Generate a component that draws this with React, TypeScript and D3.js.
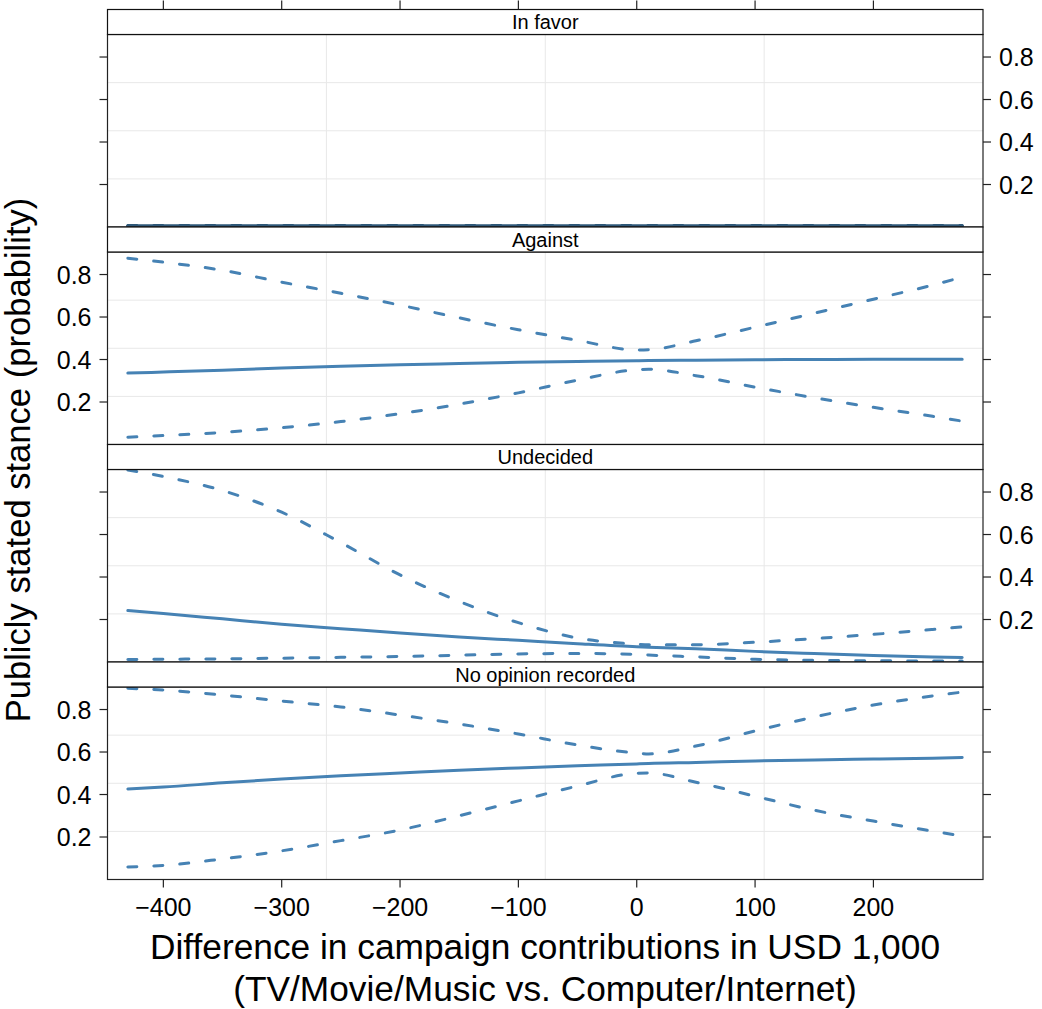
import React from "react";
import * as d3 from "d3";

const panelNames = ["In favor", "Against", "Undecided", "No opinion recorded"];
const xs = [-430, -400, -350, -300, -250, -200, -150, -100, -50, 0, 10, 50, 100, 150, 200, 250, 275];

const favorFit = [0.006, 0.006, 0.006, 0.006, 0.006, 0.006, 0.006, 0.006, 0.006, 0.006, 0.006, 0.006, 0.006, 0.006, 0.006, 0.006, 0.006];
const favorLow = [0.005, 0.005, 0.005, 0.005, 0.005, 0.005, 0.005, 0.005, 0.005, 0.005, 0.005, 0.005, 0.005, 0.005, 0.005, 0.005, 0.005];
const favorUp = [0.007, 0.007, 0.007, 0.007, 0.007, 0.007, 0.007, 0.007, 0.007, 0.007, 0.007, 0.007, 0.007, 0.007, 0.007, 0.007, 0.007];

const againstFit = [0.336, 0.341, 0.35, 0.36, 0.368, 0.375, 0.381, 0.387, 0.391, 0.394, 0.395, 0.397, 0.399, 0.4, 0.401, 0.401, 0.401];
const againstUp = [0.877, 0.858, 0.82, 0.764, 0.712, 0.656, 0.596, 0.54, 0.49, 0.445, 0.446, 0.488, 0.552, 0.618, 0.684, 0.75, 0.788];
const againstLow = [0.034, 0.042, 0.057, 0.079, 0.108, 0.145, 0.19, 0.243, 0.303, 0.352, 0.354, 0.324, 0.27, 0.22, 0.175, 0.133, 0.11];

const undecidedFit = [0.242, 0.228, 0.203, 0.178, 0.157, 0.136, 0.118, 0.102, 0.086, 0.072, 0.07, 0.062, 0.05, 0.04, 0.031, 0.024, 0.021];
const undecidedUp = [0.904, 0.873, 0.807, 0.705, 0.562, 0.41, 0.285, 0.185, 0.113, 0.084, 0.081, 0.081, 0.093, 0.11, 0.13, 0.153, 0.165];
const undecidedLow = [0.012, 0.013, 0.015, 0.018, 0.022, 0.026, 0.032, 0.038, 0.04, 0.036, 0.033, 0.024, 0.013, 0.008, 0.006, 0.005, 0.005];

const noOpFit = [0.426, 0.435, 0.455, 0.473, 0.488, 0.501, 0.514, 0.525, 0.535, 0.544, 0.546, 0.551, 0.558, 0.563, 0.567, 0.571, 0.574];
const noOpUp = [0.9, 0.892, 0.868, 0.84, 0.812, 0.774, 0.732, 0.685, 0.633, 0.595, 0.591, 0.628, 0.699, 0.765, 0.821, 0.864, 0.882];
const noOpLow = [0.059, 0.066, 0.097, 0.135, 0.183, 0.233, 0.3, 0.37, 0.44, 0.5, 0.501, 0.458, 0.392, 0.326, 0.275, 0.228, 0.205];

const fits = [favorFit, againstFit, undecidedFit, noOpFit];
const uppers = [favorUp, againstUp, undecidedUp, noOpUp];
const lowers = [favorLow, againstLow, undecidedLow, noOpLow];

const xTicks = [-400, -300, -200, -100, 0, 100, 200];
const yTicks = [0.2, 0.4, 0.6, 0.8];
const xDomain = [-447.2, 292.6];
const yDomain = [0, 0.906];

const LEFT = 107.5;
const RIGHT = 983;
const TOP = 9.5;
const STRIP = 25;
const PANEL = 192.5;
const SECTION = STRIP + PANEL;
const FONT = "'Liberation Sans', Arial, Helvetica, sans-serif";
const BLUE = "#4682b4";

export default function App() {
  const x = d3.scaleLinear().domain(xDomain).range([LEFT, RIGHT]);
  const xGrid = [1, 2, 3].map((k) => xDomain[0] + ((xDomain[1] - xDomain[0]) * k) / 4);
  const yGrid = [1, 2, 3].map((k) => yDomain[0] + ((yDomain[1] - yDomain[0]) * k) / 4);
  const bottom = TOP + 4 * SECTION;

  return (
    <svg width={1042} height={1009} style={{ position: "absolute", left: 0, top: 0, background: "#fff" }} fontFamily={FONT}>
      <rect x={0} y={0} width={1042} height={1009} fill="#fff" />
      {panelNames.map((name, i) => {
        const sTop = TOP + i * SECTION;
        const pTop = sTop + STRIP;
        const pBot = pTop + PANEL;
        const y = d3.scaleLinear().domain(yDomain).range([pBot, pTop]);
        const line = d3
          .line<number>()
          .x((_, j) => x(xs[j]))
          .y((v) => y(v))
          .curve(d3.curveMonotoneX);
        const labelsRight = i % 2 === 0;
        const lineColor = i === 0 ? "#2f5878" : BLUE;
        return (
          <g key={name}>
            {xGrid.map((g) => (
              <line key={"gx" + g} x1={x(g)} x2={x(g)} y1={pTop} y2={pBot} stroke="#e8e8e8" strokeWidth={1} />
            ))}
            {yGrid.map((g) => (
              <line key={"gy" + g} x1={LEFT} x2={RIGHT} y1={y(g)} y2={y(g)} stroke="#e8e8e8" strokeWidth={1} />
            ))}
            <path d={line(uppers[i]) || ""} fill="none" stroke={lineColor} strokeWidth={3} strokeDasharray="9,17" strokeLinecap="round" />
            <path d={line(lowers[i]) || ""} fill="none" stroke={lineColor} strokeWidth={3} strokeDasharray="9,17" strokeLinecap="round" />
            <path d={line(fits[i]) || ""} fill="none" stroke={lineColor} strokeWidth={3} strokeLinecap="round" />
            <rect x={LEFT} y={pTop} width={RIGHT - LEFT} height={PANEL} fill="none" stroke="#222" strokeWidth={1.2} />
            <rect x={LEFT} y={sTop} width={RIGHT - LEFT} height={STRIP} fill="#fff" stroke="#111" strokeWidth={1.2} />
            <text x={(LEFT + RIGHT) / 2} y={sTop + 19.5} fontSize={20} textAnchor="middle" fill="#000">
              {name}
            </text>
            {yTicks.map((t) => (
              <g key={"yt" + t}>
                <line x1={LEFT - 8} x2={LEFT} y1={y(t)} y2={y(t)} stroke="#222" strokeWidth={1.2} />
                <line x1={RIGHT} x2={RIGHT + 8} y1={y(t)} y2={y(t)} stroke="#222" strokeWidth={1.2} />
                {labelsRight ? (
                  <text x={RIGHT + 16} y={y(t)} dy="0.36em" fontSize={25} textAnchor="start" fill="#000">
                    {t.toFixed(1)}
                  </text>
                ) : (
                  <text x={LEFT - 16} y={y(t)} dy="0.36em" fontSize={25} textAnchor="end" fill="#000">
                    {t.toFixed(1)}
                  </text>
                )}
              </g>
            ))}
          </g>
        );
      })}
      {xTicks.map((t) => (
        <g key={"xt" + t}>
          <line x1={x(t)} x2={x(t)} y1={TOP - 9} y2={TOP} stroke="#222" strokeWidth={1.2} />
          <line x1={x(t)} x2={x(t)} y1={bottom} y2={bottom + 8} stroke="#222" strokeWidth={1.2} />
          <text x={x(t)} y={916} fontSize={25} textAnchor="middle" fill="#000">
            {t < 0 ? "\u2212" + Math.abs(t) : String(t)}
          </text>
        </g>
      ))}
      <text x={545} y={959} fontSize={35.3} textAnchor="middle" fill="#000">
        Difference in campaign contributions in USD 1,000
      </text>
      <text x={545} y={1001} fontSize={35.3} textAnchor="middle" fill="#000">
        (TV/Movie/Music vs. Computer/Internet)
      </text>
      <text transform="translate(30,460) rotate(-90)" fontSize={34.6} textAnchor="middle" fill="#000">
        Publicly stated stance (probability)
      </text>
    </svg>
  );
}
